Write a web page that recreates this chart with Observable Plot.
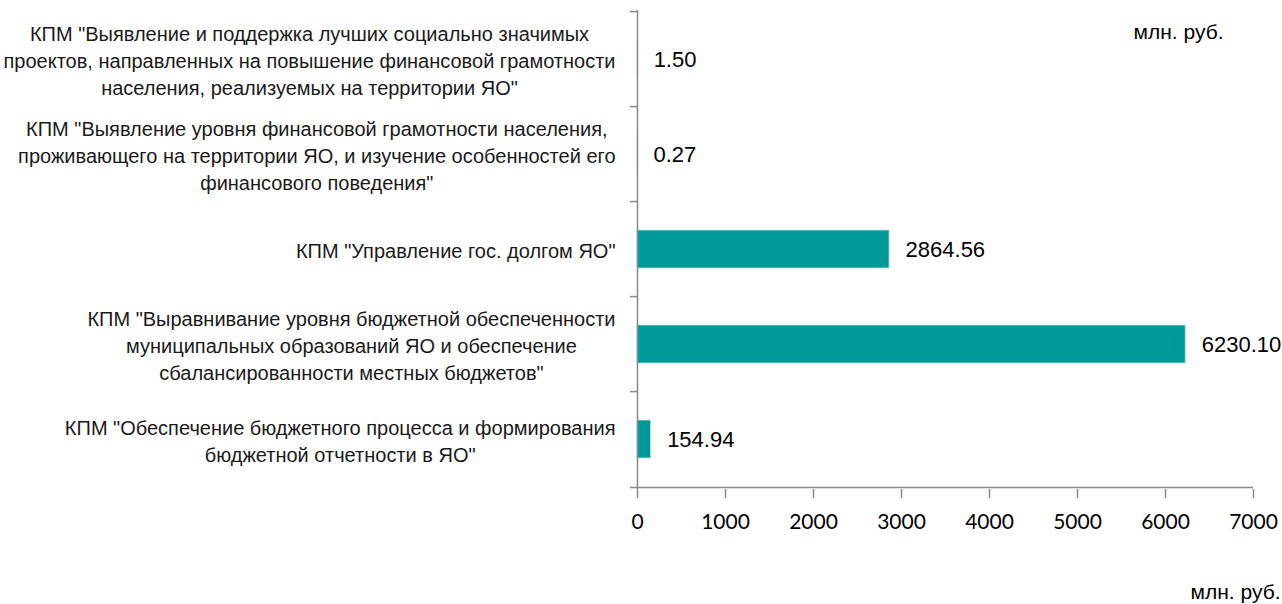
<!DOCTYPE html>
<html>
<head>
<meta charset="utf-8">
<script src="https://cdn.jsdelivr.net/npm/d3@7"></script>
<script src="https://cdn.jsdelivr.net/npm/@observablehq/plot@0.6"></script>
<style>
  html, body { margin: 0; padding: 0; background: #fff; }
  #chart { width: 1282px; height: 604px; overflow: hidden; }
</style>
</head>
<body>
<div id="chart"></div>
<script>
const categories = [
  "КПМ \"Выявление и поддержка лучших социально значимых\nпроектов, направленных на повышение финансовой грамотности\nнаселения, реализуемых на территории ЯО\"",
  "КПМ \"Выявление уровня финансовой грамотности населения,\nпроживающего на территории ЯО, и изучение особенностей его\nфинансового поведения\"",
  "КПМ \"Управление гос. долгом ЯО\"",
  "КПМ \"Выравнивание уровня бюджетной обеспеченности\nмуниципальных образований ЯО и обеспечение\nсбалансированности местных бюджетов\"",
  "КПМ \"Обеспечение бюджетного процесса и формирования\nбюджетной отчетности в ЯО\""
];
const values = [1.50, 0.27, 2864.56, 6230.10, 154.94];
const valueLabels = ["1.50", "0.27", "2864.56", "6230.10", "154.94"];
const xTicks = [0, 1000, 2000, 3000, 4000, 5000, 6000, 7000];
const unitLabel = "млн. руб.";

const data = categories.map((c, i) => ({cat: c, value: values[i], label: valueLabels[i]}));

const textFont = "'Liberation Sans', Arial, sans-serif";
const axisGray = "#898989";
const H = 604, W = 1282;
const mTop = 10, mBottom = 115, mLeft = 637, mRight = 29;
const step = (H - mTop - mBottom) / categories.length;
const labelSize = 20;
const labelGap = 22; // gap between right edge of label block and axis

// measure widest line of each label so the block is right-aligned, lines centred within it
const ctx = document.createElement("canvas").getContext("2d");
ctx.font = `${labelSize}px ${textFont}`;
const blockWidth = c => Math.max(...c.split("\n").map(s => ctx.measureText(s).width));

const labelMarks = data.map(d => Plot.text([d], {
  y: "cat",
  text: "cat",
  frameAnchor: "left",
  dx: -labelGap - blockWidth(d.cat) / 2,
  textAnchor: "middle",
  lineAnchor: "middle",
  lineHeight: 1.36,
  fontSize: labelSize,
  fill: "#1a1a1a"
}));

const chart = Plot.plot({
  width: W,
  height: H,
  marginTop: mTop,
  marginBottom: mBottom,
  marginLeft: mLeft,
  marginRight: mRight,
  style: {fontFamily: textFont, background: "#fff", overflow: "visible"},
  x: {domain: [0, 7000], axis: null},
  y: {domain: categories, paddingInner: 0.6, paddingOuter: 0.3, axis: null},
  marks: [
    Plot.barX(data, {x: "value", y: "cat", fill: "#009999", stroke: "#bfe6e6", strokeWidth: 0.8}),
    // vertical axis line
    Plot.ruleX([0], {stroke: axisGray, strokeWidth: 1.5}),
    // band-boundary ticks on the category axis
    Plot.ruleY(categories, {y: d => d, x1: -80, x2: 0, dy: -step / 2, stroke: axisGray, strokeWidth: 1.5}),
    // bottom axis line
    Plot.ruleY([categories[categories.length - 1]], {y: d => d, x1: -80, x2: 7000, dy: step / 2, stroke: axisGray, strokeWidth: 1.5}),
    Plot.axisX({
      ticks: xTicks,
      tickFormat: d => String(d),
      tickSize: 9,
      tickPadding: 16,
      stroke: axisGray,
      strokeWidth: 1.5,
      fontSize: 21,
      fontFamily: "Lato, 'Open Sans', sans-serif",
      fill: "#000",
      label: null
    }),
    ...labelMarks,
    // value labels
    Plot.text(data, {
      x: "value",
      y: "cat",
      text: "label",
      dx: 16,
      textAnchor: "start",
      fontSize: 22,
      fill: "#000"
    }),
    // unit labels
    Plot.text([unitLabel], {
      frameAnchor: "top-right",
      text: d => d,
      dx: -30,
      dy: 22,
      lineAnchor: "middle",
      textAnchor: "end",
      fontSize: 21,
      fill: "#000"
    }),
    Plot.text([unitLabel], {
      frameAnchor: "bottom-right",
      text: d => d,
      dx: 27,
      dy: 103,
      lineAnchor: "middle",
      textAnchor: "end",
      fontSize: 21,
      fill: "#000"
    })
  ]
});

document.getElementById("chart").appendChild(chart);
</script>
</body>
</html>
